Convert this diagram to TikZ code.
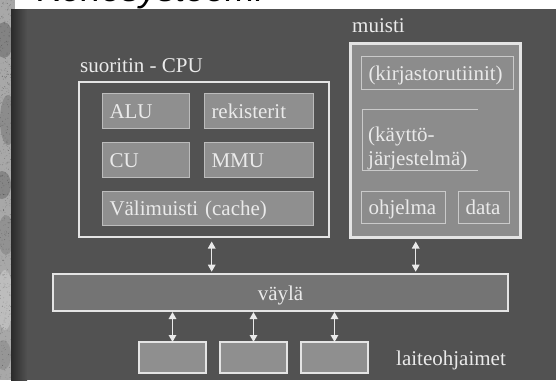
\documentclass[tikz,border=0pt]{standalone}
\usepackage{fontspec}
\setmainfont{Liberation Serif}
\newfontfamily\headfont{Liberation Sans}
\usetikzlibrary{arrows.meta,calc}

\definecolor{panel}{RGB}{82,82,82}
\definecolor{panelshade}{RGB}{42,42,42}
\definecolor{frameline}{RGB}{228,228,228}
\definecolor{unitfill}{RGB}{143,143,143}
\definecolor{unitline}{RGB}{188,188,188}
\definecolor{memfill}{RGB}{140,140,140}
\definecolor{memline}{RGB}{202,202,202}
\definecolor{busfill}{RGB}{116,116,116}
\definecolor{inktext}{RGB}{234,234,234}
\definecolor{texture}{RGB}{168,168,168}

\begin{document}
\begin{tikzpicture}[x=1pt,y=-1pt,
  every node/.style={font=\fontsize{21}{24}\selectfont, text=inktext},
  label text/.style={anchor=base west, inner sep=0pt},
  cell/.style 2 args={anchor=north west, outer sep=0pt, inner xsep=7.5pt, inner ysep=0pt,
    text width=#1, minimum height=#2, text height=15pt, text depth=0pt, align=left},
  cpuunit/.style={draw=unitline, line width=0.9pt, fill=unitfill},
  memunit/.style={draw=memline, line width=0.9pt},
  frame/.style={draw=frameline, anchor=north west, outer sep=0pt, inner sep=0pt},
  device/.style={frame, line width=2.5pt, fill=unitfill, minimum width=67pt, minimum height=31pt},
  biarrow/.style={draw=inktext, line width=1.4pt,
    {Triangle[width=7.5pt,length=7pt]}-{Triangle[width=7.5pt,length=7pt]}}
]
\useasboundingbox (0,0) rectangle (556,380);

% page background, textured side strip and dark panel
\fill[white] (0,0) rectangle (556,380);
\fill[texture] (0,0) rectangle (11,380);
\fill[texture] (0,0) rectangle (15,9);
\begin{scope}
  \clip (0,0) rectangle (11,380) (0,0) rectangle (15,9);
  \fill[black,opacity=0.22] (4,40) ellipse (9 and 18);
  \fill[black,opacity=0.16] (8,120) ellipse (8 and 25);
  \fill[black,opacity=0.2] (2,185) ellipse (9 and 14);
  \fill[black,opacity=0.13] (6,235) ellipse (8 and 20);
  \fill[white,opacity=0.25] (5,300) ellipse (8 and 30);
  \fill[black,opacity=0.1] (3,355) ellipse (8 and 15);
  \pgfmathsetseed{11}
  \foreach \i in {1,...,700}{
    \pgfmathsetmacro{\px}{rnd*15}
    \pgfmathsetmacro{\py}{rnd*380}
    \pgfmathsetmacro{\po}{rnd*0.35}
    \fill[black,opacity=\po] (\px,\py) circle (0.45);
  }
\end{scope}
\shade[left color=panelshade, right color=panel] (11,9) rectangle (27,380);
\fill[panel] (27,9) rectangle (556,380);

% heading, mostly cut off at the top edge
\begin{scope}
  \clip (15,0) rectangle (556,9);
  \node[anchor=base west, inner sep=0pt, text=black,
        font=\headfont\itshape\fontsize{36}{40}\selectfont] (title) at (37,1.5) {Konesysteemi};
\end{scope}

% processor
\node[frame, line width=2.5pt, minimum width=250pt, minimum height=155pt] (cpu) at (79,82) {};
\node[label text] (cpulabel) at (80,72) {suoritin - CPU};
\node[cell={72pt}{35pt}, cpuunit] (alu) at (102,93) {ALU};
\node[cell={94pt}{35pt}, cpuunit] (reg) at (204,93) {rekisterit};
\node[cell={72pt}{35pt}, cpuunit] (cu)  at (102,142) {CU};
\node[cell={94pt}{35pt}, cpuunit] (mmu) at (204,142) {MMU};
\node[cell={196pt}{34pt}, cpuunit] (cache) at (102,191) {Välimuisti (cache)};

% memory
\node[frame, line width=3pt, fill=memfill, minimum width=170pt, minimum height=194pt] (mem) at (350,43) {};
\node[label text] (memlabel) at (352,32) {muisti};
\node[cell={137pt}{33pt}, memunit] (lib) at (361,56) {(kirjastorutiinit)};
\node[anchor=north west, inner sep=0pt, outer sep=0pt, minimum width=116pt, minimum height=61pt] (os) at (362,109) {};
\draw[memline, line width=0.9pt] (os.north east) -- (os.north west) -- (os.south west) -- (os.south east);
\node[anchor=north west, inner sep=0pt, align=left] (ostext) at ([xshift=6pt,yshift=-17.5pt]os.north west)
  {(käyttö-\\järjestelmä)};
\node[cell={69pt}{32pt}, memunit] (prog) at (361,191) {ohjelma};
\node[cell={36pt}{32pt}, memunit] (data) at (458,191) {data};

% bus and device controllers
\node[frame, line width=2pt, fill=busfill, minimum width=455pt, minimum height=37pt,
      text height=15pt, text depth=0pt] (bus) at (53,274) {väylä};
\node[device] (dev1) at (139,342) {};
\node[device] (dev2) at (220,342) {};
\node[device] (dev3) at (301,342) {};
\node[label text] (devlabel) at (396,365) {laiteohjaimet};

% connections to the bus
\draw[biarrow, shorten <=4.5pt, shorten >=2.3pt]
  ([xshift=7.7pt]cpu.south) -- ([xshift=7.7pt]cpu.south |- bus.north);
\draw[biarrow, shorten <=4.5pt, shorten >=2.3pt]
  ([xshift=-19.3pt]mem.south) -- ([xshift=-19.3pt]mem.south |- bus.north);
\foreach \d in {dev1,dev2,dev3}{
  \draw[biarrow, shorten <=1pt] (\d.north |- bus.south) -- (\d.north);
}
\end{tikzpicture}
\end{document}
